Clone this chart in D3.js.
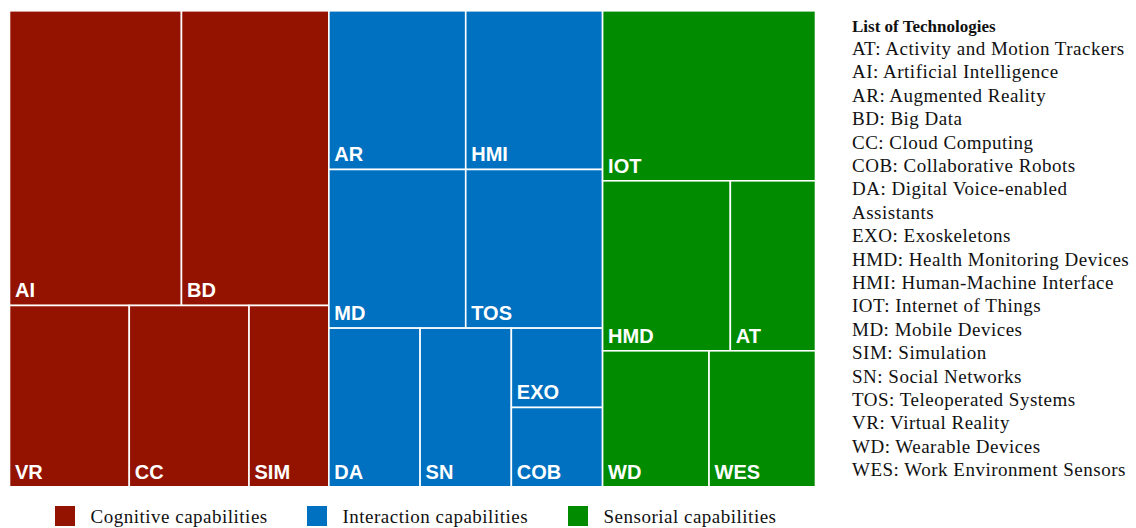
<!DOCTYPE html>
<html>
<head>
<meta charset="utf-8">
<script src="https://cdn.jsdelivr.net/npm/d3@7"></script>
<style>
  body { margin: 0; background: #fff; }
  svg { display: block; }
</style>
</head>
<body>
<div id="chart"></div>
<script>
// capability groups and colours
var groupNames = ["Cognitive capabilities", "Interaction capabilities", "Sensorial capabilities"];
var groupColors = ["#931300", "#0070c0", "#008b00"];

var techCodes  = ["AI", "BD", "VR", "CC", "SIM", "AR", "HMI", "MD", "TOS", "DA", "SN", "EXO", "COB", "IOT", "HMD", "AT", "WD", "WES"];
var techGroup  = [0, 0, 0, 0, 0, 1, 1, 1, 1, 1, 1, 1, 1, 2, 2, 2, 2, 2];
var techValues = [7, 6, 3, 3, 2, 3, 3, 3, 3, 2, 2, 1, 1, 5, 3, 2, 2, 2];

var listTitle = "List of Technologies";
var listLines = [
    "AT: Activity and Motion Trackers",
    "AI: Artificial Intelligence",
    "AR: Augmented Reality",
    "BD: Big Data",
    "CC: Cloud Computing",
    "COB: Collaborative Robots",
    "DA: Digital Voice-enabled",
    "Assistants",
    "EXO: Exoskeletons",
    "HMD: Health Monitoring Devices",
    "HMI: Human-Machine Interface",
    "IOT: Internet of Things",
    "MD: Mobile Devices",
    "SIM: Simulation",
    "SN: Social Networks",
    "TOS: Teleoperated Systems",
    "VR: Virtual Reality",
    "WD: Wearable Devices",
    "WES: Work Environment Sensors"
];

var W = 1136, H = 528;
var margin = { left: 9.5, top: 10.8 };
var tmW = 806, tmH = 476;
var serif = "'Liberation Serif', 'Times New Roman', serif";

var svg = d3.select("#chart").append("svg")
    .attr("width", W)
    .attr("height", H);

// build hierarchy
var rootData = {
    name: "root",
    children: groupNames.map(function (g, gi) {
        return {
            name: g,
            gi: gi,
            children: techCodes
                .map(function (c, i) { return { name: c, gi: techGroup[i], value: techValues[i] }; })
                .filter(function (d) { return d.gi === gi; })
        };
    })
};

var root = d3.hierarchy(rootData)
    .sum(function (d) { return d.value || 0; })
    .sort(function (a, b) { return b.value - a.value; });

// no padding here, the white gaps come from the rect stroke
d3.treemap()
    .tile(d3.treemapSquarify.ratio(1))
    .size([tmW, tmH])(root);

var g = svg.append("g")
    .attr("transform", "translate(" + margin.left + "," + margin.top + ")");

var leaves = g.selectAll(".cell")
    .data(root.leaves())
    .enter().append("g")
    .attr("class", "cell")
    .attr("transform", function (d) { return "translate(" + d.x0 + "," + d.y0 + ")"; });

leaves.append("rect")
    .attr("width", function (d) { return d.x1 - d.x0; })
    .attr("height", function (d) { return d.y1 - d.y0; })
    .attr("fill", function (d) { return groupColors[d.data.gi]; })
    .attr("stroke", "#fff")
    .attr("stroke-width", 1.6);

leaves.append("text")
    .attr("x", 5.5)
    .attr("y", function (d) { return d.y1 - d.y0 - 8; })
    .attr("fill", "#fff")
    .attr("font-family", "'Liberation Sans', Arial, sans-serif")
    .attr("font-weight", "bold")
    .attr("font-size", "20px")
    .text(function (d) { return d.data.name; });

// list of technologies on the right
var list = svg.append("g")
    .attr("transform", "translate(852,0)")
    .attr("font-family", serif)
    .attr("fill", "#111");

list.append("text")
    .attr("y", 31.5)
    .attr("font-weight", "bold")
    .attr("font-size", "17px")
    .text(listTitle);

list.selectAll(".line")
    .data(listLines)
    .enter().append("text")
    .attr("class", "line")
    .attr("font-size", "19px")
    .attr("letter-spacing", "0.5px")
    .attr("y", function (d, i) { return 55 + i * 23.4; })
    .text(function (d) { return d; });

// bottom legend
var legendX = [55, 307, 568];
var legend = svg.selectAll(".legend")
    .data(groupNames)
    .enter().append("g")
    .attr("class", "legend")
    .attr("transform", function (d, i) { return "translate(" + legendX[i] + ",506)"; });

legend.append("rect")
    .attr("width", 20)
    .attr("height", 20)
    .attr("fill", function (d, i) { return groupColors[i]; });

legend.append("text")
    .attr("x", 35.5)
    .attr("y", 17)
    .attr("font-family", serif)
    .attr("font-size", "19px")
    .attr("letter-spacing", "0.5px")
    .attr("fill", "#111")
    .text(function (d) { return d; });
</script>
</body>
</html>
